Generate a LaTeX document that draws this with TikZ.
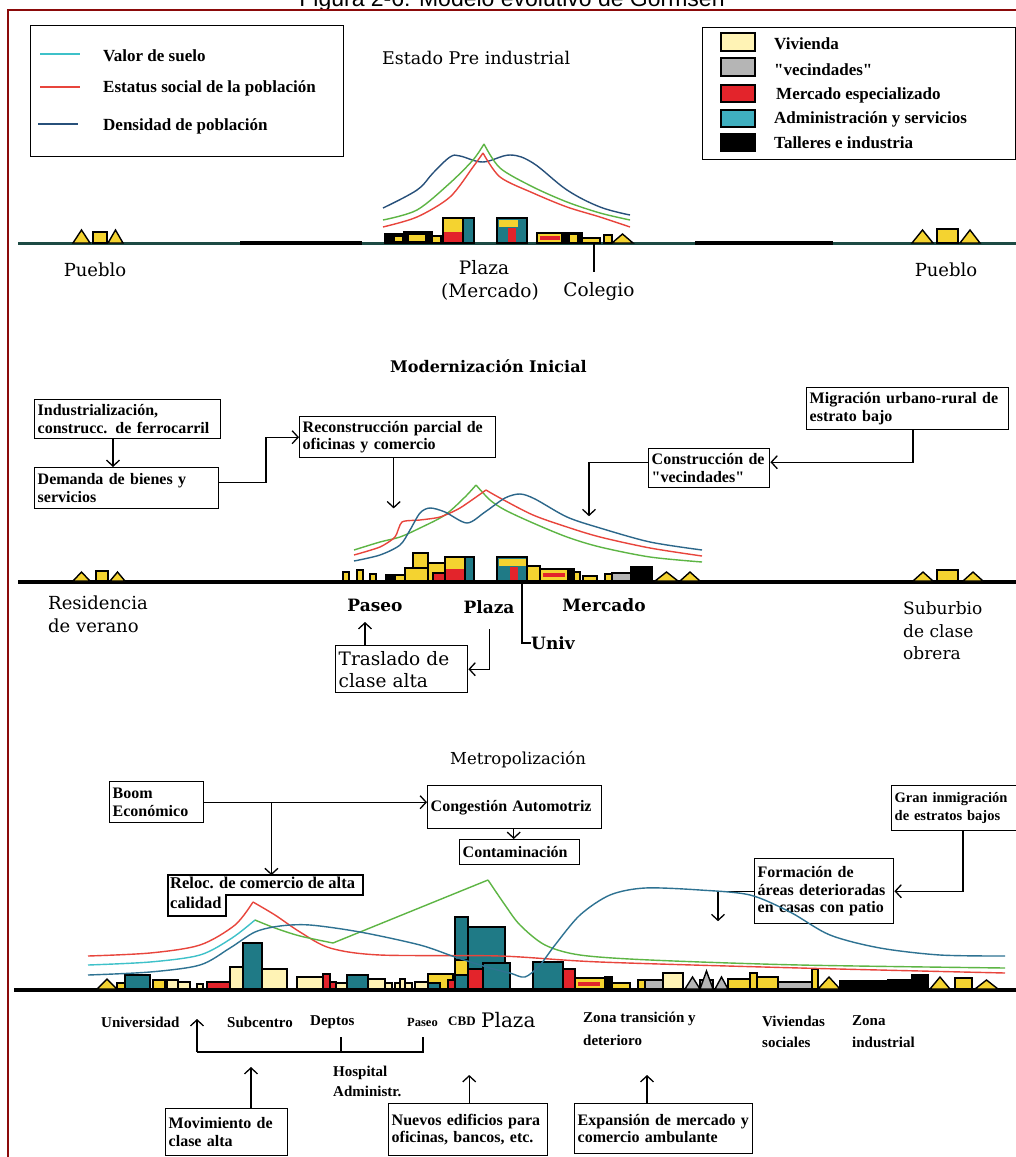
\documentclass[tikz,border=0pt]{standalone}
\usepackage{fontspec}
\setmainfont{Liberation Serif}
\newfontfamily\titlefont{Liberation Sans}
\newfontfamily\dvs{DejaVu Serif}
\usetikzlibrary{arrows.meta,calc}
\definecolor{cyanL}{HTML}{3EC1C9}
\definecolor{redL}{HTML}{E8453C}
\definecolor{blueL}{HTML}{27507A}
\definecolor{greenL}{HTML}{5DB544}
\definecolor{yel}{HTML}{F4D330}
\definecolor{viv}{HTML}{FFF3B5}
\definecolor{redB}{HTML}{E3242B}
\definecolor{adm}{HTML}{1F7A86}
\definecolor{admL}{HTML}{3FAFBF}
\definecolor{gry}{HTML}{B5B5B5}
\definecolor{frm}{HTML}{8B0A0A}
\definecolor{gnd}{HTML}{1D4A44}
\newcommand\dq{{\addfontfeature{Ligatures=TeXOff}"}}
\newcommand\bldg[4]{\filldraw[bld,fill=#4] (#1,\gy) rectangle (#2,#3);}
\newcommand\band[5]{\fill[#5] (#1,#2) rectangle (#3,#4);}
\newcommand\roof[4]{\filldraw[bld,fill=#4] (#1,\gy) -- ({(#1+#2)/2},#3) -- (#2,\gy) -- cycle;}
\newcommand\boxat[6]{\pgfmathsetmacro\tw{#4-6}\node[bxs,anchor=north west,text width=\tw pt,minimum width=#4pt,minimum height=#5pt] (#1) at (#2,#3) {#6};}
\begin{document}
\begin{tikzpicture}[x=1pt,y=-1pt,
  bld/.style={draw=black,line width=1.4pt},
  bxs/.style={draw=black,line width=1.4pt,inner sep=3pt,align=left,font=\bfseries\fontsize{16}{17.5}\selectfont},
  arr/.style={line width=1.3pt,-{Straight Barb[length=6pt,width=13pt,line width=1.3pt]}},
  conn/.style={line width=1.3pt},
  crv/.style={line width=1.4pt},
  lbl/.style={inner sep=0pt,font=\dvs\fontsize{18}{21}\selectfont},
  lbd/.style={inner sep=0pt,font=\dvs\bfseries\fontsize{17}{20}\selectfont},
  lbb/.style={inner sep=0pt,font=\bfseries\fontsize{15}{17}\selectfont},
  sec/.style={inner sep=0pt,font=\dvs\fontsize{17.5}{21}\selectfont},
  leg/.style={inner sep=0pt,font=\bfseries\fontsize{17}{19}\selectfont}]
\useasboundingbox (0,0) rectangle (1016,1157);
\fill[white] (0,0) rectangle (1016,1157);
% title and frame
\node[anchor=base,inner sep=0pt,font=\titlefont\fontsize{23}{25}\selectfont] (title) at (512,6) {Figura 2-6: Modelo evolutivo de Gormsen};
\draw[frm,line width=2pt] (1016,10) -- (8,10) -- (8,1157);

% ===== legend =====
\node[draw=black,line width=1.3pt,minimum width=313pt,minimum height=131pt,anchor=north west,inner sep=0pt] (leg1) at (30,25) {};
\draw[cyanL,line width=2pt] (40,54) -- (80,54);
\draw[redL,line width=2pt] (40,87) -- (80,87);
\draw[blueL,line width=2pt] (38,124) -- (78,124);
\node[leg,anchor=west] (l1) at (103,56) {Valor de suelo};
\node[leg,anchor=west] (l2) at (103,88) {Estatus social de la población};
\node[leg,anchor=west] (l3) at (103,126) {Densidad de población};
\node[draw=black,line width=1.3pt,minimum width=313pt,minimum height=132pt,anchor=north west,inner sep=0pt] (leg2) at (702,27) {};
\filldraw[bld,fill=viv] (721,33) rectangle (755,51);
\filldraw[bld,fill=gry] (721,58) rectangle (755,76);
\filldraw[bld,fill=redB] (721,85) rectangle (755,102);
\filldraw[bld,fill=admL] (721,110) rectangle (755,127);
\filldraw[bld,fill=black] (721,134) rectangle (755,151);
\node[leg,anchor=west] (r1) at (774,44) {Vivienda};
\node[leg,anchor=west] (r2) at (774,70) {\dq vecindades\dq};
\node[leg,anchor=west] (r3) at (776,95) {Mercado especializado};
\node[leg,anchor=west] (r4) at (774,119) {Administración y servicios};
\node[leg,anchor=west] (r5) at (774,143) {Talleres e industria};

% ===== section 1 =====
\node[sec,anchor=west] (s1) at (382,58) {Estado Pre industrial};
\draw[gnd,line width=3pt] (18,243) -- (1016,243);
\draw[black,line width=4pt] (240,243) -- (362,243);
\draw[black,line width=4pt] (695,243) -- (833,243);
\def\gy{243}
\roof{73}{90}{230}{yel}\bldg{93}{107}{232}{yel}\roof{108}{123}{230}{yel}
\roof{912}{933}{230}{yel}\bldg{937}{958}{229}{yel}\roof{960}{980}{230}{yel}
\bldg{385}{404}{234}{black}\band{395}{237}{402}{241}{yel}
\bldg{404}{432}{232}{black}\band{409}{235}{425}{241}{yel}
\bldg{432}{441}{236}{yel}
\bldg{443}{474}{218}{yel}\band{444}{232}{462}{242}{redB}\bldg{463}{474}{218}{adm}
\bldg{497}{527}{218}{adm}\band{499}{220}{518}{227}{yel}\band{508}{228}{516}{242}{redB}
\bldg{537}{562}{233}{yel}\band{540}{236}{560}{240}{redB}
\bldg{562}{582}{233}{black}\band{570}{235}{577}{242}{yel}
\bldg{582}{600}{238}{yel}\bldg{604}{612}{235}{yel}\roof{612}{633}{234}{yel}
% curves 1
\draw[crv,blueL] plot[smooth,tension=0.6] coordinates {(383,208) (417,190) (433,173) (450,157) (460,156) (483,162) (510,155) (533,163) (567,190) (600,207) (630,215)};
\draw[crv,greenL] plot[smooth,tension=0.5] coordinates {(383,220) (417,210) (450,183) (473,160) (484,144)};
\draw[crv,greenL] plot[smooth,tension=0.5] coordinates {(484,144) (500,168) (533,187) (567,202) (600,213) (630,220)};
\draw[crv,redL] plot[smooth,tension=0.5] coordinates {(383,227) (417,217) (450,197) (473,167) (483,153)};
\draw[crv,redL] plot[smooth,tension=0.5] coordinates {(483,153) (500,177) (533,193) (567,207) (600,217) (630,227)};
\node[lbl] (pue1) at (95,270) {Pueblo};
\node[lbl] (pue2) at (946,270) {Pueblo};
\node[lbl,font=\dvs\fontsize{18.5}{21}\selectfont] (pla1) at (484,268) {Plaza};
\node[lbl,font=\dvs\fontsize{18.5}{21}\selectfont] (mer1) at (490,292) {(Mercado)};
\node[lbl,font=\dvs\fontsize{18.5}{21}\selectfont] (col1) at (599,292) {Colegio};
\draw[conn] (594,243) -- (594,272);

% ===== section 2 =====
\node[sec,anchor=west,font=\dvs\bfseries\fontsize{16}{20}\selectfont] (s2) at (390,366) {Modernización Inicial};
\boxat{ind}{34}{399}{186}{39}{Industrialización,\\construcc. de ferrocarril}
\boxat{dem}{34}{467}{184}{41}{Demanda de bienes y\\servicios}
\boxat{rec}{299}{416}{196}{41}{Reconstrucción parcial de\\oficinas y comercio}
\boxat{mig}{806}{387}{202}{42}{Migración urbano-rural de\\estrato bajo}
\boxat{con}{648}{448}{121}{39}{Construcción de\\\dq vecindades\dq}
\node[draw=black,line width=1.4pt,anchor=north west,minimum width=132pt,minimum height=47pt,text width=126pt,inner sep=3pt,align=left,font=\dvs\fontsize{18.5}{22}\selectfont] (tra) at (335,645) {Traslado de\\clase alta};
\draw[arr] ($(ind.south west)+(79,0)$) -- ($(dem.north west)+(79,0)$);
\draw[arr] ($(dem.east)+(0,-6)$) -| ($(rec.west)+(-33,0)$) -- (rec.west);
\draw[arr] ($(rec.south)+(-4,0)$) -- ++(0,50);
\draw[arr] ($(mig.south west)+(107,0)$) |- ($(con.east)+(0,-6)$);
\draw[arr] ($(con.west)+(0,-6)$) -| ($(con.west)+(-59,48)$);
\draw[arr] ($(tra.north west)+(30,0)$) -- ++(0,-23);
\draw[arr] ($(tra.east)+(21,-40)$) |- (tra.east);
\draw[black,line width=4pt] (18,582) -- (1016,582);
\def\gy{581}
\roof{73}{90}{572}{yel}\bldg{96}{108}{571}{yel}\roof{110}{125}{572}{yel}
\roof{913}{933}{572}{yel}\bldg{937}{958}{570}{yel}\roof{963}{983}{572}{yel}
\bldg{343}{349}{572}{yel}\bldg{357}{363}{570}{yel}\bldg{370}{376}{574}{yel}
\bldg{386}{395}{575}{black}\bldg{395}{405}{575}{yel}
\filldraw[bld,fill=yel] (413,553) rectangle (428,568);
\bldg{405}{433}{568}{yel}
\bldg{428}{445}{563}{yel}\bldg{433}{445}{573}{redB}
\bldg{445}{465}{557}{yel}\band{446}{569}{464}{580}{redB}\bldg{465}{474}{557}{adm}
\bldg{497}{527}{557}{adm}\band{499}{559}{526}{566}{yel}\band{510}{567}{518}{580}{redB}
\bldg{527}{540}{566}{yel}
\bldg{540}{568}{569}{yel}\band{543}{573}{565}{577}{redB}
\bldg{568}{574}{569}{black}\bldg{574}{580}{572}{yel}
\bldg{583}{597}{576}{yel}\bldg{605}{612}{574}{yel}\bldg{612}{631}{573}{gry}\bldg{631}{652}{567}{black}
\roof{655}{678}{572}{yel}\roof{680}{700}{572}{yel}
% curves 2
\draw[crv,greenL] plot[smooth,tension=0.5] coordinates {(354,550) (380,542) (400,537) (420,528) (445,515) (465,497) (476,485)};
\draw[crv,greenL] plot[smooth,tension=0.5] coordinates {(476,485) (490,500) (505,510) (533,523) (567,537) (600,547) (650,557) (702,562)};
\draw[crv,redL] plot[smooth,tension=0.4] coordinates {(354,555) (380,547) (395,537) (402,522) (420,520) (440,517) (460,508) (486,490)};
\draw[crv,redL] plot[smooth,tension=0.5] coordinates {(486,490) (500,498) (533,515) (567,527) (600,537) (650,548) (702,556)};
\draw[crv,blueL!80!cyanL] plot[smooth,tension=0.5] coordinates {(354,561) (380,555) (400,545) (410,530) (420,513) (430,508) (445,512) (467,523) (485,512) (505,498) (520,494) (535,499) (567,517) (600,528) (650,542) (702,550)};
\node[lbl,anchor=west] (res) at (48,603) {Residencia};
\node[lbl,anchor=west] (ver) at (48,626) {de verano};
\node[lbd] (pas2) at (375,605) {Paseo};
\node[lbd] (pla2) at (489,607) {Plaza};
\node[lbd] (mer2) at (604,605) {Mercado};
\node[lbd,anchor=west] (uni2) at (531,643) {Univ};
\draw[conn] (522,582) |- (uni2.west);
\node[lbl,anchor=west,font=\dvs\fontsize{17}{20}\selectfont] (sub1) at (903,608) {Suburbio};
\node[lbl,anchor=west,font=\dvs\fontsize{17}{20}\selectfont] (sub2) at (903,631) {de clase};
\node[lbl,anchor=west,font=\dvs\fontsize{17}{20}\selectfont] (sub3) at (903,653) {obrera};

% ===== section 3 =====
\node[sec,anchor=west,font=\dvs\fontsize{16.5}{20}\selectfont] (s3) at (450,760) {Metropolización};
\boxat{boom}{109}{781}{94}{41}{Boom\\Económico}
\boxat{cong}{427}{785}{174}{43}{Congestión Automotriz}
\boxat{cont}{459}{839}{120}{25}{Contaminación}
\node[draw=black,line width=1.4pt,inner sep=3pt,align=left,anchor=north west,text width=144pt,minimum width=150pt,minimum height=45pt,font=\bfseries\fontsize{14.5}{17.5}\selectfont] (gran) at (891,785) {Gran inmigración\\de estratos bajos};
\boxat{form}{754}{858}{139}{65}{Formación de\\áreas deterioradas\\en casas con patio}
\node[anchor=north west,inner sep=2pt,align=left,font=\bfseries\fontsize{16.5}{20}\selectfont] (rel) at (168,875) {Reloc. de comercio de alta\\calidad};
\draw[line width=1.4pt] (168,875) -- (363,875) -- (363,895) -- (226,895) -- (226,916) -- (168,916) -- cycle;
\boxat{mov}{165}{1108}{122}{47}{Movimiento de\\clase alta}
\boxat{nue}{388}{1103}{159}{52}{Nuevos edificios para\\oficinas, bancos, etc.}
\boxat{exp}{574}{1103}{178}{50}{Expansión de mercado y\\comercio ambulante}
\draw[arr] (boom.east) -- (boom.east -| cong.west);
\draw[arr] ($(boom.east)+(67,0)$) -- ($(boom.east)+(67,73)$);
\draw[arr] ($(cong.south)+(-1,0)$) -- ($(cont.north -| cong.south)+(-1,0)$);
\draw[arr] ($(gran.south west)+(72,0)$) |- (form.east);
\draw[arr] (form.west) -| ($(form.west)+(-36,30)$);
\draw[arr] ($(mov.north west)+(86,0)$) -- ++(0,-41);
\draw[arr] ($(nue.north)+(1,0)$) -- ++(0,-28);
\draw[arr] ($(exp.north west)+(73,0)$) -- ++(0,-28);
% ground 3
\draw[black,line width=4pt] (14,990) -- (1016,990);
\def\gy{989}
\roof{97}{117}{979}{yel}\bldg{117}{125}{983}{yel}\bldg{125}{150}{975}{adm}
\bldg{153}{165}{980}{yel}\bldg{167}{178}{980}{viv}\bldg{178}{190}{982}{viv}
\bldg{197}{203}{984}{viv}
\bldg{207}{243}{982}{redB}\bldg{230}{247}{967}{viv}\bldg{243}{262}{943}{adm}
\bldg{262}{287}{969}{viv}
\bldg{297}{323}{977}{viv}\bldg{323}{330}{974}{redB}\bldg{330}{336}{982}{redB}\bldg{336}{347}{983}{viv}
\bldg{347}{368}{975}{adm}\bldg{368}{385}{979}{viv}\bldg{385}{392}{983}{viv}
\bldg{395}{400}{983}{viv}\bldg{400}{405}{979}{viv}\bldg{405}{412}{983}{viv}\bldg{415}{428}{982}{viv}
\bldg{428}{453}{974}{yel}\bldg{428}{440}{983}{adm}
\bldg{448}{465}{980}{redB}
\bldg{455}{468}{917}{adm}\bldg{468}{505}{927}{adm}
\filldraw[bld,fill=yel] (455,960) rectangle (468,975);
\bldg{468}{483}{969}{redB}\bldg{483}{510}{963}{adm}
\bldg{533}{563}{962}{adm}\bldg{563}{575}{969}{redB}
\bldg{575}{605}{978}{yel}\band{578}{982}{600}{986}{redB}
\bldg{605}{612}{977}{black}\bldg{612}{630}{983}{yel}
\bldg{638}{645}{980}{yel}\bldg{645}{663}{980}{gry}\bldg{663}{683}{973}{viv}
\roof{685}{700}{977}{gry}\bldg{700}{713}{980}{gry}\roof{700}{713}{971}{gry}\roof{715}{728}{977}{gry}
\bldg{728}{750}{979}{yel}\bldg{750}{757}{973}{yel}\bldg{757}{778}{977}{yel}
\bldg{778}{812}{982}{gry}
\bldg{812}{818}{969}{yel}\roof{818}{840}{977}{yel}
\bldg{840}{888}{981}{black}\bldg{888}{912}{980}{black}\bldg{912}{928}{975}{black}
\roof{930}{950}{977}{yel}\bldg{955}{972}{978}{yel}\roof{975}{998}{980}{yel}
% curves 3
\draw[crv,redL] plot[smooth,tension=0.5] coordinates {(88,956) (150,953) (200,945) (235,925) (253,902)};
\draw[crv,redL] plot[smooth,tension=0.5] coordinates {(253,902) (275,915) (300,932) (330,948) (380,955) (500,956) (600,962) (800,968) (1005,973)};
\draw[crv,cyanL] plot[smooth,tension=0.5] coordinates {(88,965) (150,962) (200,955) (232,938) (255,920)};
\draw[crv,greenL] plot[smooth,tension=0.5] coordinates {(255,920) (275,928) (300,936) (333,943)};
\draw[crv,greenL] (333,943) -- (488,880);
\draw[crv,greenL] plot[smooth,tension=0.5] coordinates {(488,880) (505,905) (520,925) (545,945) (580,955) (650,960) (800,965) (1005,968)};
\draw[crv,blueL!70!cyanL] plot[smooth,tension=0.5] coordinates {(88,975) (150,972) (200,965) (230,948) (255,932) (280,926) (310,925) (360,932) (420,945) (455,957) (490,968) (510,973) (525,977) (540,965) (555,945) (580,915) (610,895) (645,888) (700,890) (750,895) (790,912) (830,935) (880,948) (940,955) (1005,956)};
% labels 3
\node[lbb,anchor=west] (t1) at (101,1022) {Universidad};
\node[lbb,anchor=west] (t2) at (227,1022) {Subcentro};
\node[lbb,anchor=west] (t3) at (310,1022) {Deptos};
\node[lbb,anchor=west,font=\bfseries\fontsize{12.5}{15}\selectfont] (t4) at (407,1022) {Paseo};
\node[lbb,anchor=west,font=\bfseries\fontsize{13}{15}\selectfont] (t5) at (448,1021) {CBD};
\node[lbl,anchor=west,font=\dvs\fontsize{20}{23}\selectfont] (t6) at (481,1020) {Plaza};
\node[lbb,anchor=west] (t7) at (583,1019) {Zona transición y};
\node[lbb,anchor=west] (t7b) at (583,1040) {deterioro};
\node[lbb,anchor=west] (t8) at (762,1021) {Viviendas};
\node[lbb,anchor=west] (t8b) at (762,1042) {sociales};
\node[lbb,anchor=west] (t9) at (852,1021) {Zona};
\node[lbb,anchor=west] (t9b) at (852,1042) {industrial};
\node[lbb,anchor=west] (h1) at (333,1073) {Hospital};
\node[lbb,anchor=west] (h2) at (333,1091) {Administr.};
\coordinate (brL) at (197,1052);
\coordinate (brR) at (423,1052);
\draw[arr] (brL) -- ++(0,-33);
\draw[conn] (brL) -- (brR) -- ++(0,-15);
\draw[conn] (341,1037) -- (341,1052);
\end{tikzpicture}
\end{document}
